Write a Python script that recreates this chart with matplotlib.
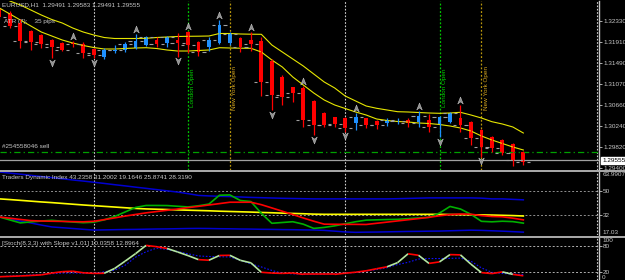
import matplotlib
matplotlib.use("Agg")
import matplotlib.pyplot as plt
import numpy as np
from matplotlib.path import Path
from matplotlib.lines import Line2D

plt.rcParams['font.family'] = ['Liberation Sans', 'DejaVu Sans']

# EURUSD H1 candles
open_ = [1.32576, 1.32496, 1.32296, 1.32136, 1.32056, 1.31966, 1.31896, 1.31896, 1.31876, 1.31786,
         1.31616, 1.31736, 1.31750, 1.31796, 1.31862, 1.31966, 1.31890, 1.31956, 1.32126, 1.31910,
         1.31822, 1.31890, 1.31896, 1.31990, 1.31956, 1.31936, 1.31542, 1.31222, 1.31010, 1.30990,
         1.30736, 1.30502, 1.30410, 1.30390, 1.30290, 1.30390, 1.30336, 1.30290, 1.30310, 1.30356,
         1.30316, 1.30356, 1.30256, 1.30310, 1.30390, 1.30322, 1.30156, 1.30022, 1.29956, 1.29876,
         1.29722]
high = [1.32596, 1.32536, 1.32376, 1.32156, 1.32076, 1.31982, 1.31916, 1.31936, 1.31910, 1.31796,
        1.31806, 1.31850, 1.31916, 1.32076, 1.32036, 1.32010, 1.32042, 1.32102, 1.32142, 1.31936,
        1.32010, 1.32356, 1.32116, 1.32010, 1.32116, 1.32016, 1.31576, 1.31256, 1.31022, 1.31036,
        1.30756, 1.30522, 1.30422, 1.30410, 1.30496, 1.30402, 1.30356, 1.30402, 1.30390, 1.30390,
        1.30542, 1.30470, 1.30436, 1.30522, 1.30656, 1.30336, 1.30170, 1.30036, 1.29970, 1.29890,
        1.29736]
low = [1.32376, 1.32196, 1.31796, 1.31756, 1.31796, 1.31596, 1.31736, 1.31810, 1.31602, 1.31596,
       1.31576, 1.31702, 1.31716, 1.31776, 1.31836, 1.31822, 1.31810, 1.31622, 1.31690, 1.31642,
       1.31730, 1.31876, 1.31856, 1.31722, 1.31736, 1.30836, 1.30556, 1.30656, 1.30722, 1.30210,
       1.30056, 1.30222, 1.30210, 1.30122, 1.30156, 1.30190, 1.30176, 1.30236, 1.30270, 1.30222,
       1.30222, 1.30122, 1.30016, 1.30290, 1.30122, 1.29856, 1.29622, 1.29722, 1.29656, 1.29436,
       1.29456]
close = [1.32416, 1.32236, 1.31936, 1.31916, 1.31876, 1.31826, 1.31756, 1.31870, 1.31702, 1.31656,
         1.31766, 1.31766, 1.31870, 1.31936, 1.32010, 1.31876, 1.32022, 1.31890, 1.31856, 1.31722,
         1.31956, 1.32256, 1.32076, 1.31822, 1.31876, 1.31122, 1.30856, 1.30822, 1.30890, 1.30356,
         1.30256, 1.30256, 1.30270, 1.30190, 1.30422, 1.30256, 1.30256, 1.30356, 1.30336, 1.30290,
         1.30436, 1.30222, 1.30416, 1.30490, 1.30256, 1.29990, 1.29822, 1.29790, 1.29690, 1.29556,
         1.29522]

# yellow envelope lines on the price chart
band_upper = [1.32836, 1.32736, 1.32656, 1.32556, 1.32456, 1.32366, 1.32296, 1.32196, 1.32116, 1.32056,
              1.32006, 1.31986, 1.31986, 1.31986, 1.31990, 1.32006, 1.32016, 1.32026, 1.32030, 1.32032,
              1.32036, 1.32086, 1.32086, 1.32076, 1.32072, 1.32070, 1.31856, 1.31716, 1.31576, 1.31436,
              1.31276, 1.31116, 1.30996, 1.30836, 1.30736, 1.30636, 1.30590, 1.30556, 1.30522, 1.30516,
              1.30506, 1.30496, 1.30490, 1.30496, 1.30510, 1.30456, 1.30396, 1.30322, 1.30276, 1.30216,
              1.30096]
band_lower = [1.32596, 1.32476, 1.32356, 1.32236, 1.32116, 1.32036, 1.31956, 1.31896, 1.31846, 1.31806,
              1.31776, 1.31776, 1.31786, 1.31796, 1.31802, 1.31786, 1.31756, 1.31736, 1.31736, 1.31746,
              1.31756, 1.31802, 1.31796, 1.31792, 1.31790, 1.31716, 1.31556, 1.31416, 1.31216, 1.31056,
              1.30896, 1.30756, 1.30656, 1.30586, 1.30516, 1.30456, 1.30376, 1.30346, 1.30326, 1.30316,
              1.30296, 1.30286, 1.30266, 1.30236, 1.30196, 1.30136, 1.30036, 1.29956, 1.29886, 1.29816,
              1.29756]

fractal_up = [7, 13, 18, 21, 24, 29, 34, 40, 44]
fractal_down = [5, 9, 17, 26, 30, 33, 42, 46]

day_starts = [9, 33, 57]
london_open = [18, 42]
newyork_open = [22, 46]

order_price = 1.29722
bid_price = 1.29555
price_ticks = [1.32330, 1.31910, 1.31490, 1.31070, 1.30660, 1.30240, 1.29820, 1.29400]

# Traders Dynamic Index
tdi_upper = [63.99, 63.18, 62.38, 61.49, 60.61, 59.81, 58.93, 58.05, 57.24, 56.36,
             55.48, 54.52, 53.64, 52.69, 51.81, 50.86, 49.97, 49.02, 47.85, 46.53,
             46.16, 45.87, 45.65, 45.36, 45.06, 44.84, 44.62, 44.40, 44.25, 44.10,
             43.95, 43.95, 43.95, 43.95, 43.95, 43.95, 43.95, 43.95, 44.10, 44.30,
             44.50, 44.69, 44.69, 44.69, 44.69, 44.69, 44.50, 43.95, 43.95, 43.60,
             43.24]
tdi_base = [43.96, 43.44, 42.86, 42.27, 41.68, 41.17, 40.58, 39.99, 39.41, 38.89,
            38.38, 37.87, 37.35, 36.84, 36.47, 36.25, 36.03, 35.74, 35.52, 35.30,
            35.08, 34.78, 34.56, 34.34, 34.12, 33.83, 33.61, 33.32, 33.10, 32.88,
            32.58, 32.44, 32.44, 32.44, 32.44, 32.44, 32.44, 32.44, 32.44, 32.44,
            32.44, 32.44, 32.44, 32.30, 32.20, 32.10, 32.00, 31.90, 31.70, 31.50,
            31.20]
tdi_lower = [30.46, 28.99, 27.45, 25.98, 24.44, 23.04, 22.46, 21.87, 21.28, 20.70,
             20.84, 20.99, 21.14, 21.21, 21.36, 21.50, 21.58, 21.72, 21.87, 21.94,
             21.87, 21.72, 21.65, 21.50, 21.43, 21.28, 21.21, 21.06, 20.99, 20.84,
             20.77, 20.48, 19.90, 19.31, 19.02, 19.16, 19.23, 19.38, 19.52, 19.67,
             19.74, 19.89, 19.96, 20.18, 20.40, 20.62, 20.48, 20.18, 19.89, 19.52,
             19.16]
tdi_rsi = [30.46, 28.25, 26.05, 26.79, 27.45, 27.96, 27.30, 26.71, 26.20, 26.57,
           28.32, 30.82, 34.20, 37.57, 39.04, 39.04, 38.97, 38.45, 37.94, 38.82,
           40.07, 46.67, 46.89, 42.71, 41.98, 33.17, 25.76, 26.35, 26.93, 25.10,
           21.94, 22.68, 23.85, 25.39, 26.93, 28.11, 28.33, 28.55, 28.70, 29.21,
           29.73, 30.17, 33.40, 38.31, 36.40, 32.44, 27.23, 26.86, 27.30, 27.01,
           25.87]
tdi_signal = [30.46, 29.57, 28.62, 27.74, 27.45, 27.30, 27.16, 27.01, 26.86, 27.23,
              28.47, 29.79, 31.12, 32.36, 33.54, 34.49, 35.44, 36.40, 37.43, 38.38,
              39.41, 40.43, 41.46, 41.46, 41.46, 39.63, 37.21, 34.78, 32.29, 29.72,
              27.30, 25.10, 25.03, 24.96, 24.96, 24.88, 25.76, 26.64, 27.52, 28.40,
              29.28, 30.24, 31.34, 32.22, 32.66, 32.51, 31.48, 30.82, 30.61, 29.57,
              28.32]

# Stochastic (8,3,3)
stoch_main = [7.8, 8.7, 9.6, 10.8, 12.2, 16.5, 19.8, 20.9, 17.2, 15.8,
              16.0, 27.5, 44.9, 62.8, 82.4, 79.3, 75.1, 66.8, 58.1, 48.5,
              47.1, 58.4, 58.8, 46.8, 40.9, 18.4, 16.5, 15.8, 16.7, 13.4,
              13.4, 13.4, 13.4, 16.2, 18.6, 21.9, 26.8, 31.5, 41.4, 62.4,
              58.8, 39.5, 43.1, 60.5, 59.8, 37.6, 17.6, 15.3, 19.3, 13.4,
              10.04]
stoch_signal = [7.8, 9.2, 10.6, 12.0, 13.4, 15.1, 16.5, 16.7, 16.2, 15.8,
                19.5, 23.3, 35.1, 54.4, 67.3, 75.8, 72.9, 68.0, 62.4, 57.2,
                56.0, 55.3, 54.8, 47.1, 38.4, 31.1, 22.8, 15.8, 14.8, 13.6,
                13.6, 14.1, 15.1, 16.0, 17.9, 21.2, 24.9, 29.4, 36.7, 42.1,
                49.9, 51.1, 51.1, 51.5, 52.2, 44.7, 28.9, 18.1, 15.5, 14.4,
                12.9]

W, H = 625, 280
fig = plt.figure(figsize=(W / 100, H / 100), dpi=100, facecolor='black')

def px_axes(top, bottom):
    return fig.add_axes([0, 1 - bottom / H, 599 / W, (bottom - top) / H], facecolor='black')

ax = px_axes(1, 170)
ax_tdi = px_axes(172, 235)
ax_st = px_axes(238, 280)

fs = 4.6
silver = '#c8c8c8'
xlim = (0.06, 57.22)
x = np.arange(len(close))

for a in (ax, ax_tdi, ax_st):
    a.set_xlim(*xlim)
    a.set_xticks([])
    for s in ('top', 'bottom', 'left'):
        a.spines[s].set_visible(False)
    a.spines['right'].set_color(silver)
    a.spines['right'].set_linewidth(1)
    a.yaxis.tick_right()
    a.tick_params(axis='y', colors=silver, labelsize=fs, length=2, pad=1, width=0.6)
    for d in day_starts:
        a.axvline(d, color='#d0d0d0', lw=0.8, ls=(0, (1.5, 1.5)))

# ---- price chart ----
ax.set_ylim(1.29356, 1.32736)
ax.set_yticks(price_ticks)
ax.set_yticklabels([f"{p:.5f}" for p in price_ticks])

for d in london_open:
    ax.axvline(d, color='#00c800', lw=0.9, ls=(0, (1.5, 1.5)))
    ax.text(d + 0.22, 1.30616, "London Open", rotation=90, color='#00d000',
            fontsize=fs, ha='left', va='bottom')
for d in newyork_open:
    ax.axvline(d, color='#b8960b', lw=0.9, ls=(0, (1.5, 1.5)))
    ax.text(d + 0.22, 1.30556, "New York Open", rotation=90, color='#d4a520',
            fontsize=fs, ha='left', va='bottom')

ax.axhline(order_price, color='#00a000', lw=0.9, ls=(0, (5, 2.5, 1, 2.5)))
ax.axhline(bid_price, color='#a0a0a0', lw=0.9)

ax.plot(x, band_upper, color='#e6e600', lw=0.8)
ax.plot(x, band_lower, color='#e6e600', lw=0.8)

o = np.array(open_); c = np.array(close)
bull = c >= o
colors = np.where(bull, '#1e90ff', '#ff0000')
ax.vlines(x, low, high, colors=colors, lw=0.9)
body_lo = np.minimum(o, c)
body_h = np.maximum(np.abs(c - o), 0.00004)
ax.bar(x, body_h, bottom=body_lo, width=0.36, color=colors, linewidth=0)

# grey close marks on each side of the candles
ax.hlines(close, x - 0.68, x - 0.38, colors='#a0a0a0', lw=0.8)
ax.hlines(close, x + 0.38, x + 0.68, colors='#a0a0a0', lw=0.8)

up_arrow = Path([(0, 1), (0.8, -1), (0, -0.4), (-0.8, -1), (0, 1)],
                [Path.MOVETO, Path.LINETO, Path.LINETO, Path.LINETO, Path.CLOSEPOLY])
down_arrow = Path([(0, -1), (0.8, 1), (0, 0.4), (-0.8, 1), (0, -1)],
                  [Path.MOVETO, Path.LINETO, Path.LINETO, Path.LINETO, Path.CLOSEPOLY])
hi = np.array(high); lo = np.array(low)
ax.plot(fractal_up, hi[fractal_up] + 0.001, ls='none', marker=up_arrow, ms=5,
        mfc='#909090', mec='#d8d8d8', mew=0.3)
ax.plot(fractal_down, lo[fractal_down] - 0.0009, ls='none', marker=down_arrow, ms=5,
        mfc='#909090', mec='#d8d8d8', mew=0.3)

ax.text(xlim[1] + 0.3, bid_price, f"{bid_price:.5f}", color='black', fontsize=fs,
        va='center', ha='left', clip_on=False,
        bbox=dict(boxstyle='square,pad=0.15', fc='white', ec='white'))

fig.text(2 / W, 1 - 5 / H, "EURUSD,H1  1.29491 1.29583 1.29491 1.29555", color=silver,
         fontsize=fs, va='center', ha='left')
fig.text(4 / W, 1 - 22 / H, "ATR (7):    35 pips", color=silver, fontsize=fs,
         va='center', ha='left')
fig.text(2 / W, 1 - 146 / H, "#254558046 sell", color=silver, fontsize=fs,
         va='center', ha='left')

# ---- TDI ----
ax_tdi.set_ylim(17.03, 63.99)
ax_tdi.set_yticks([50, 32])
ax_tdi.set_yticklabels(['50', '32'])
for lv in (50, 32):
    ax_tdi.axhline(lv, color='#909090', lw=0.7, ls=(0, (2, 2)))
ax_tdi.plot(x, tdi_upper, color='#0000d0', lw=1.1)
ax_tdi.plot(x, tdi_lower, color='#0000d0', lw=1.1)
ax_tdi.plot(x, tdi_base, color='#ffff00', lw=1.2)
ax_tdi.plot(x, tdi_rsi, color='#00b000', lw=1.2)
ax_tdi.plot(x, tdi_signal, color='#ff0000', lw=1.2)
ax_tdi.text(xlim[1] + 0.3, 63.99, "63.9907", color=silver, fontsize=fs, va='top',
            ha='left', clip_on=False)
ax_tdi.text(xlim[1] + 0.3, 17.03, "17.03", color=silver, fontsize=fs, va='bottom',
            ha='left', clip_on=False)
fig.text(2 / W, 1 - 177 / H, "Traders Dynamic Index 43.2358 31.2002 19.1646 25.8741 28.3190",
         color=silver, fontsize=fs, va='center', ha='left')

# ---- Stochastic ----
ax_st.set_ylim(0, 100)
ax_st.set_yticks([80, 20])
ax_st.set_yticklabels(['80', '20'])
for lv in (80, 20):
    ax_st.axhline(lv, color='#b0b0b0', lw=0.7, ls=(0, (2, 2)))
ax_st.plot(x, stoch_signal, color='#1010ff', lw=0.8, ls=(0, (1.5, 1.5)))
sm = np.array(stoch_main)
for i in range(len(sm) - 1):
    col = '#ff0000' if abs(sm[i + 1] - sm[i]) < 5.5 else '#b4e6a0'
    ax_st.plot([i, i + 1], sm[i:i + 2], color=col, lw=1.2, solid_capstyle='butt')
ax_st.text(xlim[1] + 0.3, 100, "100", color=silver, fontsize=fs, va='top',
           ha='left', clip_on=False)
ax_st.text(xlim[1] + 0.3, 0, "0", color=silver, fontsize=fs, va='bottom',
           ha='left', clip_on=False)
fig.text(2 / W, 1 - 243 / H, "[Stoch(8,3,3) with Slope v1.01] 10.0358 12.8964",
         color=silver, fontsize=fs, va='center', ha='left')

# panel separators
for yy in (171, 236.5):
    fig.add_artist(Line2D([0, 1], [1 - yy / H] * 2, color='#b8b8b8', lw=1.3))

fig.savefig("out.png", dpi=100, facecolor='black')
